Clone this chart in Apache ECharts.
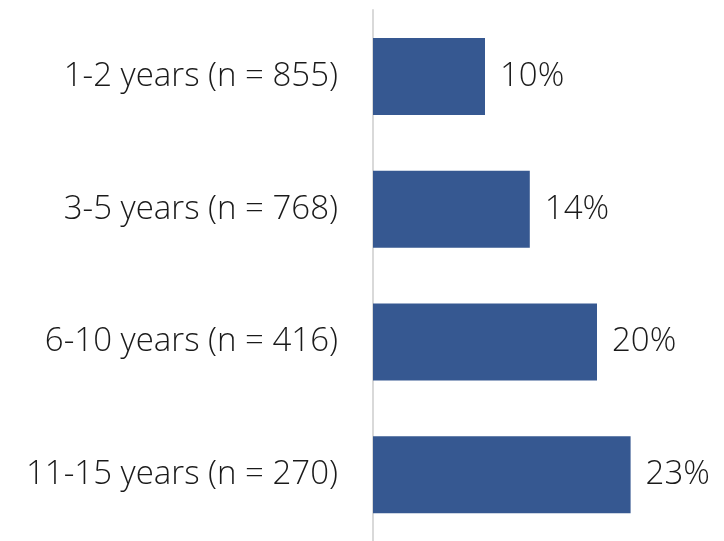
<!DOCTYPE html>
<html>
<head>
<meta charset="utf-8">
<script src="https://cdn.jsdelivr.net/npm/echarts@6/dist/echarts.min.js"></script>
<style>
  html, body { margin: 0; padding: 0; background: #ffffff; }
  #chart { width: 724px; height: 541px; }
</style>
</head>
<body>
<div id="chart"></div>
<script>
// Tenure groups and the share for each
const categories = ['1-2 years (n = 855)', '3-5 years (n = 768)', '6-10 years (n = 416)', '11-15 years (n = 270)'];
const values = [10, 14, 20, 23];

const FONT = '"Open Sans", Lato, sans-serif';
const chart = echarts.init(document.getElementById('chart'), null, { renderer: 'canvas' });

chart.setOption({
  animation: false,
  backgroundColor: '#ffffff',
  grid: { left: 373, top: 10, height: 536, width: 336, containLabel: false },
  xAxis: {
    type: 'value', min: 0, max: 30,
    show: false
  },
  yAxis: {
    type: 'category',
    data: categories,
    inverse: true,
    axisLine: { show: true, lineStyle: { color: '#d9d9d9', width: 2 } },
    axisTick: { show: false },
    splitLine: { show: false },
    axisLabel: { color: '#1a1a1a', fontSize: 33, fontWeight: 300, fontFamily: FONT, margin: 35 }
  },
  series: [{
    type: 'bar',
    data: values,
    barWidth: 77,
    itemStyle: { color: '#365891' },
    label: {
      show: true, position: 'right', distance: 15,
      formatter: p => p.value + '%',
      color: '#1a1a1a', fontSize: 33, fontWeight: 300, fontFamily: FONT
    }
  }]
});
</script>
</body>
</html>
